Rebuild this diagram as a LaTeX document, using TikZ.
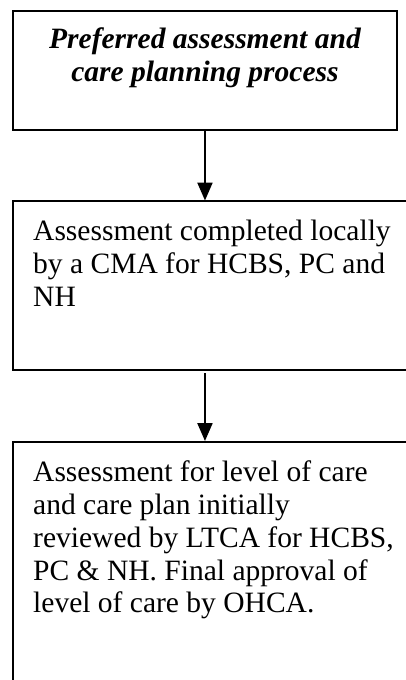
\documentclass[tikz,border=0pt]{standalone}
\usepackage{fontspec}
\setmainfont{Liberation Serif}
\usetikzlibrary{arrows.meta,positioning}

\begin{document}
\begin{tikzpicture}[
    x=0.42pt, y=-0.42pt,
    stepbox/.style={rectangle, draw, line width=0.8pt, anchor=north west, inner xsep=8.5pt, inner ysep=8pt, font=\fontsize{12.4}{13.75}\selectfont},
    titlebox/.style={stepbox, inner ysep=7.2pt, font=\fontsize{12.4}{13.75}\selectfont\bfseries\itshape},
    flow/.style={line width=0.8pt, -{Triangle[width=6.3pt, length=7.5pt]}}
]
\clip (0,0) rectangle (406,680);
\node[titlebox] (start) at (12,10) {\parbox[c][35.6pt][t]{144.3pt}{\centering Preferred assessment and\\ care planning process}};
\node[stepbox] (local) at (12,200.5) {\parbox[c][54.8pt][t]{156pt}{\raggedright Assessment completed locally\\ by a CMA for HCBS, PC and\\ NH}};
\node[stepbox] (final) at (12,441) {\parbox[c][92.8pt][t]{156pt}{\raggedright Assessment for level of care\\ and care plan initially\\ reviewed by LTCA for HCBS,\\ PC \& NH. Final approval of\\ level of care by OHCA.}};
\draw[flow] (start.south) -- (start.south |- local.north);
\draw[flow] ([yshift=-1pt]start.south |- local.south) -- (start.south |- final.north);
\end{tikzpicture}
\end{document}
